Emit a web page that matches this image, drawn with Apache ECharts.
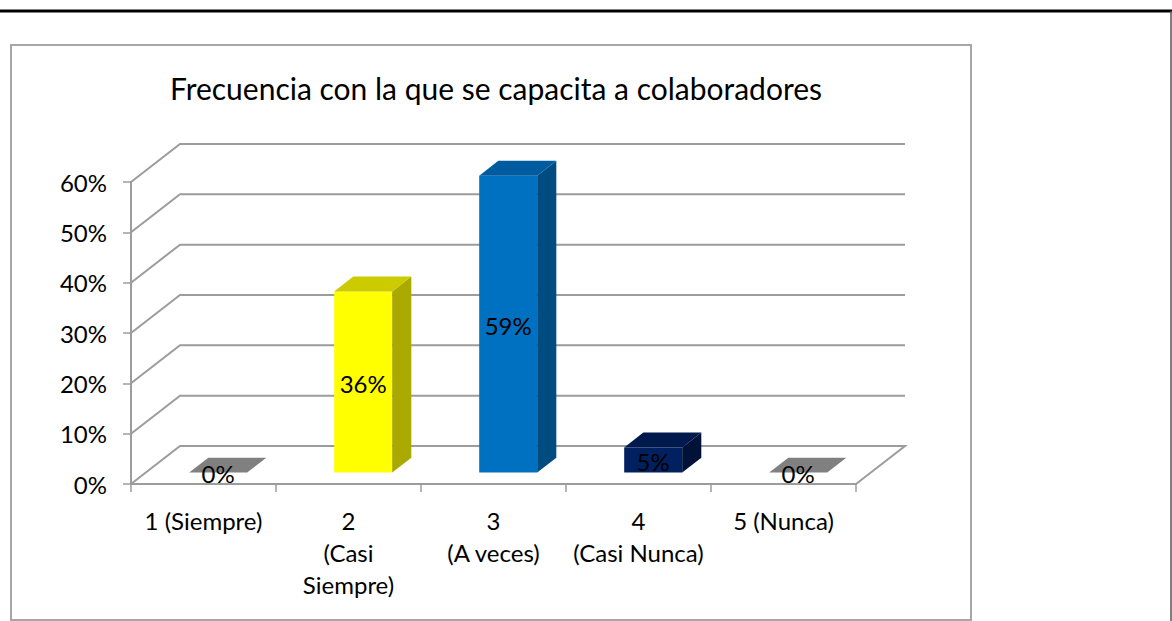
<!DOCTYPE html>
<html>
<head>
<meta charset="utf-8">
<script src="https://cdn.jsdelivr.net/npm/echarts@6/dist/echarts.min.js"></script>
<style>
  html, body { margin: 0; padding: 0; background: #fff; }
  #chart { width: 1172px; height: 621px; }
</style>
</head>
<body>
<div id="chart"></div>
<script>
// categories and values
const categories = ['1 (Siempre)', '2\n(Casi\nSiempre)', '3\n(A veces)', '4\n(Casi Nunca)', '5 (Nunca)']
const values = [0, 0.36, 0.59, 0.05, 0]
const yTicks = [0, 0.1, 0.2, 0.3, 0.4, 0.5, 0.6]

// face colours per bar: front, top, side
const frontColors = ['#808080', '#FFFF00', '#0070C0', '#002060', '#808080']
const topColors = ['#808080', '#CBCB00', '#005C9E', '#001A4E', '#808080']
const sideColors = ['#808080', '#A9A900', '#004B80', '#001238', '#808080']

const FONT = 'Lato, "Open Sans", sans-serif'
// perspective offset of the full floor depth
const DX = 49, DY = -38
const BAR_FRONT = 0.3, BAR_DEPTH = 0.39
const GRID_COLOR = '#9c9c9c'

let chart = echarts.init(document.getElementById('chart'), null, { renderer: 'svg' })

function renderWall (params, api) {
  const cs = params.coordSys
  const v = api.value(1)
  const y = api.coord([0, v])[1]
  const x = cs.x
  const w = cs.width
  let pts
  if (v === 0) {
    pts = [[x, y], [x + DX, y + DY], [x + w + DX, y + DY], [x + w, y]]
  } else {
    pts = [[x, y], [x + DX, y + DY], [x + w + DX, y + DY]]
  }
  return {
    type: 'polyline',
    shape: { points: pts },
    style: { stroke: GRID_COLOR, lineWidth: 2, fill: null },
    silent: true
  }
}

function renderBar (params, api) {
  const idx = api.value(0)
  const v = api.value(1)
  const base = api.coord([idx, 0])
  const top = api.coord([idx, v])
  const band = api.size([1, 0])[0]
  const bw = band * 0.4
  const x0 = base[0] - bw / 2 + DX * BAR_FRONT
  const x1 = x0 + bw
  const yb = base[1] + DY * BAR_FRONT
  const yt = top[1] + DY * BAR_FRONT
  const ddx = DX * BAR_DEPTH, ddy = DY * BAR_DEPTH
  const i = params.dataIndex
  const children = []
  if (yb - yt > 0.5) {
    children.push({
      type: 'rect',
      shape: { x: x0, y: yt, width: bw, height: yb - yt },
      style: { fill: frontColors[i] }
    })
    children.push({
      type: 'polygon',
      shape: { points: [[x1, yt], [x1 + ddx, yt + ddy], [x1 + ddx, yb + ddy], [x1, yb]] },
      style: { fill: sideColors[i] }
    })
  }
  children.push({
    type: 'polygon',
    shape: { points: [[x0, yt], [x0 + ddx, yt + ddy], [x1 + ddx, yt + ddy], [x1, yt]] },
    style: { fill: topColors[i] }
  })
  children.push({
    type: 'text',
    style: {
      text: Math.round(v * 100) + '%',
      x: (x0 + x1) / 2,
      y: (yt + yb) / 2 + 1,
      align: 'center',
      verticalAlign: 'middle',
      fill: '#000',
      font: '24px ' + FONT
    }
  })
  return { type: 'group', children: children }
}

let option = {
  animation: false,
  backgroundColor: '#fff',
  title: {
    text: 'Frecuencia con la que se capacita a colaboradores',
    left: 491,
    top: 68,
    textAlign: 'center',
    textStyle: { fontFamily: FONT, fontSize: 30, fontWeight: 'normal', color: '#000' }
  },
  graphic: [
    { type: 'line', shape: { x1: 0, y1: 11, x2: 1172, y2: 11 }, style: { stroke: '#000', lineWidth: 3 }, z: 10 },
    { type: 'line', shape: { x1: 1171, y1: 11, x2: 1171, y2: 621 }, style: { stroke: '#555', lineWidth: 1.5 }, z: 10 },
    { type: 'rect', shape: { x: 11, y: 45, width: 960, height: 575 }, style: { stroke: '#a6a6a6', lineWidth: 2, fill: null }, z: 10 }
  ],
  grid: { left: 131, top: 182, width: 725, height: 302 },
  xAxis: {
    type: 'category',
    data: categories,
    axisLine: { lineStyle: { color: GRID_COLOR, width: 2 } },
    axisTick: { show: true, length: 8, alignWithLabel: false, lineStyle: { color: GRID_COLOR, width: 1.5 } },
    axisLabel: { color: '#000', fontFamily: FONT, fontSize: 24, lineHeight: 32, margin: 20, interval: 0 },
    splitLine: { show: false }
  },
  yAxis: {
    type: 'value',
    min: 0,
    max: 0.6,
    interval: 0.1,
    axisLine: { show: true, lineStyle: { color: GRID_COLOR, width: 2 } },
    axisTick: { show: true, length: 8, lineStyle: { color: GRID_COLOR, width: 1.5 } },
    axisLabel: {
      color: '#000', fontFamily: FONT, fontSize: 24, margin: 24,
      formatter: function (val) { return Math.round(val * 100) + '%' }
    },
    splitLine: { show: false }
  },
  series: [
    {
      type: 'custom',
      renderItem: renderWall,
      data: yTicks.map(function (t) { return [0, t] }),
      z: 1,
      silent: true
    },
    {
      type: 'custom',
      renderItem: renderBar,
      data: values.map(function (v, i) { return [i, v] }),
      z: 5
    }
  ]
}

option && chart.setOption(option)
</script>
</body>
</html>
